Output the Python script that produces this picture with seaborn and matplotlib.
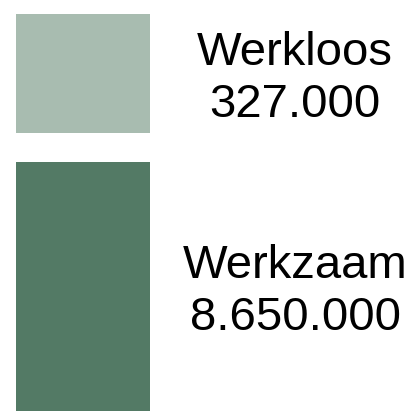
import seaborn as sns
import matplotlib.pyplot as plt

# data
labels = ["Werkzaam", "Werkloos"]
values = [8650000, 327000]
colors = ["#537a65", "#a8bcb0"]

sns.set_style("white")
plt.rcParams['font.family'] = ['Liberation Sans', 'DejaVu Sans']

fig = plt.figure(figsize=(4.13, 4.11), dpi=100)
ax = fig.add_axes([0, 0, 1, 1])

gap = 80000  # witruimte tussen de twee blokken
bottom = 0
mids = []
for lab, val, col in zip(labels, values, colors):
    ax.bar(0, val, bottom=bottom, width=1, color=col, linewidth=0)
    mids.append((bottom, bottom + val))
    bottom += val + gap

# uitsnede zoals in het origineel (onderste blok loopt door)
unit = 2748
top = bottom - gap + 14 * unit
ymin = top - 411 * unit
ax.set_ylim(ymin, top)
xmin = -0.5 - 16 / 134
ax.set_xlim(xmin, xmin + 413 / 134)

for (lo, hi), lab, val in zip(mids, labels, values):
    lo = max(lo, ymin)
    txt = f"{val:,}".replace(",", ".")
    ax.annotate(f"{lab}\n{txt}", (xmin + 295 / 134, (lo + hi) / 2),
                xytext=(0, -4), textcoords="offset points",
                ha="center", va="center", fontsize=34, color="black",
                linespacing=1.25)

ax.axis("off")
sns.despine(left=True, bottom=True)
fig.savefig("out.png", dpi=100)
